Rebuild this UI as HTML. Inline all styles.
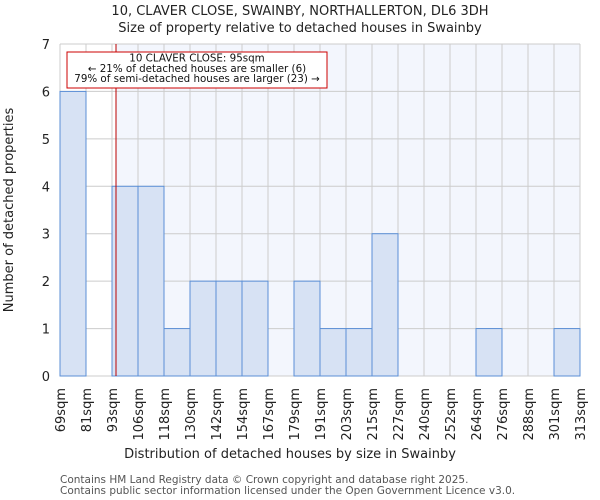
<!DOCTYPE html>
<html><head><meta charset="utf-8"><style>
body{margin:0;background:#fff;}
svg{display:block;font-family:"DejaVu Sans","Liberation Sans",sans-serif;}
</style></head><body>
<svg id="chart" width="600" height="500" viewBox="0 0 600 500">
<text x="300" y="15" text-anchor="middle" font-size="13" fill="#222">10, CLAVER CLOSE, SWAINBY, NORTHALLERTON, DL6 3DH</text>
<text x="300" y="32" text-anchor="middle" font-size="13" fill="#222">Size of property relative to detached houses in Swainby</text>
<g id="plot"></g>
<text x="290" y="458" text-anchor="middle" font-size="13" fill="#222">Distribution of detached houses by size in Swainby</text>
<text transform="translate(13,210) rotate(-90)" text-anchor="middle" font-size="13" fill="#222">Number of detached properties</text>
<text x="60" y="483" font-size="10.5" fill="#555">Contains HM Land Registry data © Crown copyright and database right 2025.</text>
<text x="60" y="494" font-size="10.5" fill="#555">Contains public sector information licensed under the Open Government Licence v3.0.</text>
</svg>
<script>
const binLabels=["69sqm","81sqm","93sqm","106sqm","118sqm","130sqm","142sqm","154sqm","167sqm","179sqm","191sqm","203sqm","215sqm","227sqm","240sqm","252sqm","264sqm","276sqm","288sqm","301sqm","313sqm"];
const binEdges=[69,81,93,106,118,130,142,154,167,179,191,203,215,227,240,252,264,276,288,301,313];
const counts=[6,0,4,4,1,2,2,2,0,2,1,1,3,0,0,0,1,0,0,1];
const yTicks=[0,1,2,3,4,5,6,7];
const propertySize=95;

const NS="http://www.w3.org/2000/svg";
const L=60,R=580,T=44,B=376;
const nb=counts.length,bw=(R-L)/nb;
const xi=i=>L+i*bw;
const xv=v=>{let i=0;while(i<binEdges.length-2&&v>binEdges[i+1])i++;return xi(i)+(v-binEdges[i])/(binEdges[i+1]-binEdges[i])*bw;};
const y=v=>B-(v/7)*(B-T);
const g=document.getElementById('plot');
function mk(t,a){const e=document.createElementNS(NS,t);for(const k in a)e.setAttribute(k,a[k]);g.appendChild(e);return e;}
const px=xv(propertySize);
let e=mk('rect',{x:px,y:T,width:R-px,height:B-T,fill:'#f3f6fd'});


for(let i=0;i<=nb;i++){e=mk('line',{x1:xi(i),x2:xi(i),y1:T,y2:B,stroke:'#ccc','stroke-width':1});

}
yTicks.forEach(t=>{e=mk('line',{x1:L,x2:R,y1:y(t),y2:y(t),stroke:'#ccc','stroke-width':1});


e=mk('text',{x:L-10,y:y(t)+5,'text-anchor':'end','font-size':13,fill:'#222'});e.textContent=t;

});
counts.forEach((c,i)=>{if(c<=0)return;e=mk('rect',{x:xi(i),y:y(c),width:bw,height:B-y(c),fill:'#d7e2f4',stroke:'#5b8fd6','stroke-width':1});

});
binLabels.forEach((s,i)=>{const x=xi(i);e=mk('text',{transform:`translate(${x+5},388) rotate(-90)`,'text-anchor':'end','font-size':13,fill:'#222'});e.textContent=s;

});
e=mk('line',{x1:px,x2:px,y1:T,y2:B,stroke:'#b00','stroke-width':1});


e=mk('rect',{x:67,y:52,width:260,height:36,fill:'#fff',stroke:'#c00','stroke-width':1});


["10 CLAVER CLOSE: 95sqm","← 21% of detached houses are smaller (6)","79% of semi-detached houses are larger (23) →"].forEach((s,i)=>{e=mk('text',{x:197,y:61.5+i*10.3,'text-anchor':'middle','font-size':10.3,fill:'#111'});e.textContent=s;

});
</script>
</body></html>
